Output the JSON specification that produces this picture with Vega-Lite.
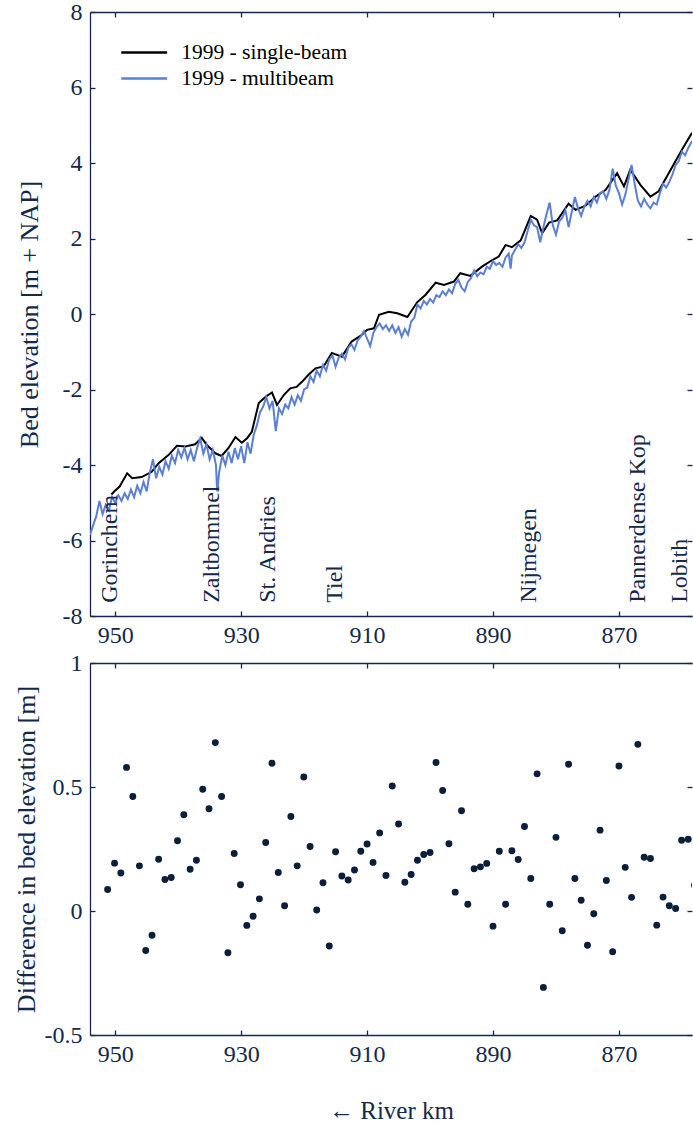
{
  "$schema": "https://vega.github.io/schema/vega-lite/v6.json",
  "background": "white",
  "padding": {"left": 13, "top": 0, "right": 0, "bottom": 0},
  "spacing": 4,
  "config": {
    "font": "Liberation Serif",
    "view": {"stroke": null},
    "axis": {
      "labelFont": "Liberation Serif", "titleFont": "Liberation Serif",
      "labelFontSize": 24, "titleFontSize": 26, "titleFontWeight": "normal",
      "labelColor": "#13294b", "titleColor": "#13294b",
      "domainColor": "#13294b", "tickColor": "#13294b",
      "domainWidth": 1.3, "tickWidth": 1.3, "grid": false,
      "labelFlush": false, "labelOverlap": false
    }
  },
  "datasets": {
    "sb": [
      {"km":950.6,"e":-4.78},{"km":950.2,"e":-4.71},{"km":949.3,"e":-4.57},{"km":948.1,"e":-4.22},{"km":947.3,"e":-4.35},{"km":945.8,"e":-4.32},{"km":944.2,"e":-4.18},{"km":943.1,"e":-3.95},{"km":941.5,"e":-3.73},{"km":940.2,"e":-3.49},{"km":938.85,"e":-3.51},{"km":937.3,"e":-3.45},{"km":936.25,"e":-3.28},{"km":935.45,"e":-3.47},{"km":934.1,"e":-3.69},{"km":933.1,"e":-3.76},{"km":932.0,"e":-3.55},{"km":930.9,"e":-3.26},{"km":929.9,"e":-3.41},{"km":929.05,"e":-3.29},{"km":928.3,"e":-3.12},{"km":927.2,"e":-2.36},{"km":926.1,"e":-2.19},{"km":925.1,"e":-2.08},{"km":924.3,"e":-2.41},{"km":923.2,"e":-2.14},{"km":922.2,"e":-1.97},{"km":921.2,"e":-1.93},{"km":920.3,"e":-1.79},{"km":919.3,"e":-1.61},{"km":918.2,"e":-1.44},{"km":916.9,"e":-1.39},{"km":915.6,"e":-1.03},{"km":914.0,"e":-1.13},{"km":912.45,"e":-0.73},{"km":910.8,"e":-0.55},{"km":910.0,"e":-0.42},{"km":908.9,"e":-0.38},{"km":908.1,"e":-0.02},{"km":906.55,"e":0.06},{"km":905.2,"e":0.02},{"km":903.6,"e":-0.08},{"km":902.05,"e":0.31},{"km":900.7,"e":0.51},{"km":899.1,"e":0.83},{"km":897.8,"e":0.77},{"km":896.2,"e":0.86},{"km":895.2,"e":1.08},{"km":893.6,"e":1.01},{"km":891.7,"e":1.26},{"km":890.1,"e":1.43},{"km":889.1,"e":1.52},{"km":888.0,"e":1.83},{"km":887.0,"e":1.77},{"km":885.6,"e":1.95},{"km":884.0,"e":2.6},{"km":883.0,"e":2.5},{"km":882.2,"e":2.14},{"km":881.1,"e":2.42},{"km":879.8,"e":2.48},{"km":878.0,"e":2.92},{"km":876.9,"e":2.76},{"km":875.3,"e":2.87},{"km":873.7,"e":3.11},{"km":872.1,"e":3.29},{"km":870.3,"e":3.73},{"km":869.2,"e":3.38},{"km":868.2,"e":3.82},{"km":866.6,"e":3.42},{"km":865.0,"e":3.11},{"km":863.7,"e":3.25},{"km":862.1,"e":3.73},{"km":860.0,"e":4.35},{"km":858.4,"e":4.8}
    ],
    "mb": [
      {"km":954.0,"e":-5.85},{"km":953.5,"e":-5.6},{"km":953.0,"e":-5.35},{"km":952.5,"e":-4.95},{"km":952.0,"e":-5.3},{"km":951.5,"e":-5.05},{"km":951.0,"e":-5.2},{"km":950.5,"e":-4.85},{"km":950.0,"e":-5.0},{"km":949.5,"e":-4.8},{"km":949.0,"e":-4.95},{"km":948.5,"e":-4.75},{"km":948.0,"e":-4.9},{"km":947.5,"e":-4.65},{"km":947.0,"e":-4.85},{"km":946.5,"e":-4.55},{"km":946.0,"e":-4.75},{"km":945.5,"e":-4.45},{"km":945.0,"e":-4.7},{"km":944.5,"e":-4.2},{"km":944.0,"e":-3.85},{"km":943.5,"e":-4.35},{"km":943.0,"e":-4.05},{"km":942.5,"e":-4.25},{"km":942.0,"e":-3.9},{"km":941.5,"e":-4.1},{"km":941.0,"e":-3.75},{"km":940.5,"e":-3.95},{"km":940.0,"e":-3.6},{"km":939.5,"e":-3.8},{"km":939.0,"e":-3.55},{"km":938.5,"e":-3.85},{"km":938.0,"e":-3.6},{"km":937.5,"e":-3.9},{"km":937.0,"e":-3.55},{"km":936.5,"e":-3.3},{"km":936.0,"e":-3.7},{"km":935.5,"e":-3.45},{"km":935.0,"e":-3.85},{"km":934.5,"e":-3.6},{"km":934.0,"e":-4.0},{"km":933.8,"e":-4.7},{"km":933.5,"e":-4.2},{"km":933.0,"e":-3.75},{"km":932.5,"e":-4.0},{"km":932.0,"e":-3.65},{"km":931.5,"e":-3.95},{"km":931.0,"e":-3.55},{"km":930.5,"e":-3.85},{"km":930.0,"e":-3.5},{"km":929.5,"e":-3.95},{"km":929.0,"e":-3.4},{"km":928.5,"e":-3.7},{"km":928.0,"e":-3.2},{"km":927.5,"e":-2.95},{"km":927.0,"e":-2.6},{"km":926.5,"e":-2.45},{"km":926.0,"e":-2.2},{"km":925.5,"e":-2.5},{"km":925.0,"e":-2.3},{"km":924.5,"e":-3.1},{"km":924.0,"e":-2.5},{"km":923.5,"e":-2.65},{"km":923.0,"e":-2.4},{"km":922.5,"e":-2.5},{"km":922.0,"e":-2.2},{"km":921.5,"e":-2.4},{"km":921.0,"e":-2.15},{"km":920.5,"e":-2.3},{"km":920.0,"e":-2.0},{"km":919.5,"e":-1.95},{"km":919.0,"e":-1.65},{"km":918.5,"e":-1.8},{"km":918.0,"e":-1.5},{"km":917.5,"e":-1.65},{"km":917.0,"e":-1.35},{"km":916.5,"e":-1.5},{"km":916.0,"e":-1.2},{"km":915.5,"e":-1.1},{"km":915.0,"e":-1.4},{"km":914.5,"e":-1.15},{"km":914.0,"e":-1.05},{"km":913.5,"e":-1.2},{"km":913.0,"e":-0.9},{"km":912.5,"e":-0.8},{"km":912.0,"e":-0.95},{"km":911.5,"e":-0.7},{"km":911.0,"e":-0.6},{"km":910.5,"e":-0.45},{"km":910.0,"e":-0.65},{"km":909.5,"e":-0.85},{"km":909.0,"e":-0.5},{"km":908.5,"e":-0.35},{"km":908.0,"e":-0.25},{"km":907.5,"e":-0.4},{"km":907.0,"e":-0.3},{"km":906.5,"e":-0.45},{"km":906.0,"e":-0.3},{"km":905.5,"e":-0.5},{"km":905.0,"e":-0.35},{"km":904.5,"e":-0.6},{"km":904.0,"e":-0.4},{"km":903.5,"e":-0.55},{"km":903.0,"e":-0.2},{"km":902.5,"e":-0.1},{"km":902.0,"e":0.25},{"km":901.5,"e":0.15},{"km":901.0,"e":0.35},{"km":900.5,"e":0.25},{"km":900.0,"e":0.4},{"km":899.5,"e":0.3},{"km":899.0,"e":0.5},{"km":898.5,"e":0.45},{"km":898.0,"e":0.6},{"km":897.5,"e":0.5},{"km":897.0,"e":0.65},{"km":896.5,"e":0.55},{"km":896.0,"e":0.8},{"km":895.5,"e":0.9},{"km":895.0,"e":0.7},{"km":894.5,"e":0.6},{"km":894.0,"e":0.85},{"km":893.5,"e":0.95},{"km":893.0,"e":1.15},{"km":892.5,"e":1.0},{"km":892.0,"e":1.1},{"km":891.5,"e":1.05},{"km":891.0,"e":1.25},{"km":890.5,"e":1.2},{"km":890.0,"e":1.4},{"km":889.5,"e":1.3},{"km":889.0,"e":1.35},{"km":888.5,"e":1.25},{"km":888.0,"e":1.5},{"km":887.5,"e":1.6},{"km":887.2,"e":1.2},{"km":887.0,"e":1.55},{"km":886.5,"e":1.7},{"km":886.0,"e":1.85},{"km":885.5,"e":1.75},{"km":885.0,"e":1.9},{"km":884.5,"e":2.2},{"km":884.0,"e":2.5},{"km":883.5,"e":2.35},{"km":883.0,"e":2.3},{"km":882.5,"e":1.9},{"km":882.0,"e":2.3},{"km":881.5,"e":2.65},{"km":881.0,"e":2.95},{"km":880.5,"e":2.35},{"km":880.0,"e":2.1},{"km":879.5,"e":2.45},{"km":879.0,"e":2.55},{"km":878.5,"e":2.75},{"km":878.0,"e":2.3},{"km":877.5,"e":2.7},{"km":877.0,"e":3.1},{"km":876.5,"e":2.8},{"km":876.0,"e":2.6},{"km":875.5,"e":2.85},{"km":875.0,"e":3.0},{"km":874.5,"e":2.85},{"km":874.0,"e":3.1},{"km":873.5,"e":2.95},{"km":873.0,"e":3.2},{"km":872.5,"e":3.25},{"km":872.0,"e":3.05},{"km":871.5,"e":3.3},{"km":871.0,"e":3.85},{"km":870.5,"e":3.4},{"km":870.0,"e":3.2},{"km":869.5,"e":2.9},{"km":869.0,"e":3.15},{"km":868.5,"e":3.55},{"km":868.0,"e":3.95},{"km":867.5,"e":3.45},{"km":867.0,"e":3.0},{"km":866.5,"e":2.85},{"km":866.0,"e":3.05},{"km":865.5,"e":2.9},{"km":865.0,"e":2.8},{"km":864.5,"e":2.95},{"km":864.0,"e":2.9},{"km":863.5,"e":3.2},{"km":863.0,"e":3.45},{"km":862.5,"e":3.35},{"km":862.0,"e":3.5},{"km":861.5,"e":3.7},{"km":861.0,"e":3.95},{"km":860.5,"e":4.05},{"km":860.0,"e":4.3},{"km":859.5,"e":4.2},{"km":859.0,"e":4.4},{"km":858.5,"e":4.55},{"km":858.2,"e":4.6}
    ],
    "stations": [
      {"km":949.7,"name":"Gorinchem"},{"km":933.55,"name":"Zaltbommel"},{"km":924.66,"name":"St. Andries"},{"km":913.97,"name":"Tiel"},{"km":883.2,"name":"Nijmegen"},{"km":865.8,"name":"Pannerdense Kop"},{"km":859.2,"name":"Lobith"}
    ],
    "diff": [
      {"km":951.2,"d":0.087},{"km":950.1,"d":0.193},{"km":949.1,"d":0.153},{"km":948.2,"d":0.579},{"km":947.2,"d":0.462},{"km":946.15,"d":0.182},{"km":945.15,"d":-0.159},{"km":944.15,"d":-0.098},{"km":943.1,"d":0.209},{"km":942.1,"d":0.127},{"km":941.1,"d":0.135},{"km":940.1,"d":0.283},{"km":939.1,"d":0.388},{"km":938.1,"d":0.168},{"km":937.1,"d":0.205},{"km":936.1,"d":0.491},{"km":935.1,"d":0.412},{"km":934.1,"d":0.679},{"km":933.1,"d":0.462},{"km":932.1,"d":-0.168},{"km":931.1,"d":0.232},{"km":930.1,"d":0.106},{"km":929.1,"d":-0.058},{"km":928.1,"d":-0.021},{"km":927.1,"d":0.049},{"km":926.1,"d":0.276},{"km":925.1,"d":0.596},{"km":924.1,"d":0.155},{"km":923.1,"d":0.021},{"km":922.1,"d":0.381},{"km":921.1,"d":0.182},{"km":920.05,"d":0.54},{"km":919.05,"d":0.26},{"km":918.0,"d":0.004},{"km":917.0,"d":0.114},{"km":916.0,"d":-0.141},{"km":915.0,"d":0.239},{"km":914.0,"d":0.141},{"km":913.0,"d":0.125},{"km":912.0,"d":0.165},{"km":911.0,"d":0.241},{"km":910.0,"d":0.27},{"km":909.05,"d":0.196},{"km":908.0,"d":0.315},{"km":907.0,"d":0.143},{"km":906.0,"d":0.504},{"km":905.0,"d":0.351},{"km":904.0,"d":0.116},{"km":903.0,"d":0.147},{"km":902.0,"d":0.205},{"km":901.0,"d":0.228},{"km":900.0,"d":0.236},{"km":899.05,"d":0.599},{"km":898.0,"d":0.486},{"km":897.0,"d":0.271},{"km":896.0,"d":0.076},{"km":895.0,"d":0.404},{"km":894.0,"d":0.027},{"km":893.0,"d":0.17},{"km":892.0,"d":0.178},{"km":891.0,"d":0.192},{"km":890.0,"d":-0.061},{"km":889.0,"d":0.241},{"km":888.0,"d":0.027},{"km":887.0,"d":0.243},{"km":886.0,"d":0.208},{"km":885.0,"d":0.341},{"km":884.0,"d":0.131},{"km":883.0,"d":0.553},{"km":882.0,"d":-0.308},{"km":881.0,"d":0.027},{"km":880.0,"d":0.297},{"km":879.0,"d":-0.08},{"km":878.0,"d":0.592},{"km":877.0,"d":0.131},{"km":876.0,"d":0.043},{"km":875.0,"d":-0.138},{"km":874.0,"d":-0.011},{"km":873.0,"d":0.326},{"km":872.0,"d":0.123},{"km":871.0,"d":-0.164},{"km":870.0,"d":0.585},{"km":869.0,"d":0.176},{"km":868.0,"d":0.055},{"km":867.0,"d":0.672},{"km":866.0,"d":0.217},{"km":865.0,"d":0.212},{"km":864.0,"d":-0.057},{"km":863.0,"d":0.056},{"km":862.0,"d":0.021},{"km":861.0,"d":0.01},{"km":860.05,"d":0.285},{"km":859.0,"d":0.289},{"km":858.0,"d":0.104}
    ]
  },
  "vconcat": [
    {
      "width": 602,
      "height": 604,
      "resolve": {"axis": {"x": "independent", "y": "independent"}},
      "layer": [
        {
          "data": {"name": "sb"},
          "mark": {"type": "line", "strokeWidth": 2, "clip": true},
          "encoding": {
            "x": {"field": "km", "type": "quantitative",
                  "scale": {"domain": [954, 858.4], "nice": false, "zero": false},
                  "axis": {"orient": "bottom", "values": [950, 930, 910, 890, 870], "title": null, "tickSize": -5, "labelPadding": 12, "format": "d"}},
            "y": {"field": "e", "type": "quantitative",
                  "scale": {"domain": [-8, 8], "nice": false, "zero": false},
                  "axis": {"orient": "left", "values": [-8, -6, -4, -2, 0, 2, 4, 6, 8], "title": "Bed elevation [m + NAP]", "titlePadding": 20, "tickSize": -5, "labelPadding": 13, "labelExpr": "'' + datum.value"}},
            "color": {"datum": "1999 - single-beam", "type": "nominal",
                      "scale": {"domain": ["1999 - single-beam", "1999 - multibeam"], "range": ["#000000", "#5b7fd1"]},
                      "legend": {"orient": "none", "legendX": 39.2, "legendY": 25.5, "title": null, "symbolType": "M-1.7,0H1.7", "symbolSize": 729, "symbolStrokeWidth": 2.5, "labelFontSize": 21.5, "labelFont": "Liberation Serif", "labelColor": "#000000", "labelLimit": 0, "padding": 0, "labelOffset": 22, "rowPadding": 0}}
          }
        },
        {
          "data": {"name": "mb"},
          "mark": {"type": "line", "strokeWidth": 2, "clip": true},
          "encoding": {
            "x": {"field": "km", "type": "quantitative",
                  "axis": {"orient": "top", "values": [950, 930, 910, 890, 870], "title": null, "labels": false, "tickSize": -5}},
            "y": {"field": "e", "type": "quantitative",
                  "axis": {"orient": "right", "values": [-8, -6, -4, -2, 0, 2, 4, 6, 8], "title": null, "labels": false, "domain": false, "tickSize": -5}},
            "color": {"datum": "1999 - multibeam", "type": "nominal"}
          }
        },
        {
          "data": {"name": "stations"},
          "mark": {"type": "text", "angle": 270, "align": "left", "baseline": "alphabetic", "fontSize": 24, "font": "Liberation Serif", "color": "#13294b"},
          "encoding": {
            "x": {"field": "km", "type": "quantitative", "axis": null},
            "y": {"datum": -7.65, "type": "quantitative", "axis": null},
            "text": {"field": "name", "type": "nominal"}
          }
        }
      ]
    },
    {
      "width": 602,
      "height": 372,
      "resolve": {"axis": {"x": "independent", "y": "independent"}},
      "layer": [
        {
          "data": {"name": "diff"},
          "mark": {"type": "circle", "size": 48, "color": "#0b1f3a", "opacity": 1, "clip": true},
          "encoding": {
            "x": {"field": "km", "type": "quantitative",
                  "scale": {"domain": [954, 858.4], "nice": false, "zero": false},
                  "axis": {"orient": "bottom", "values": [950, 930, 910, 890, 870], "title": "← River km", "titleFontSize": 25, "titlePadding": 32, "tickSize": -5, "labelPadding": 12, "format": "d"}},
            "y": {"field": "d", "type": "quantitative",
                  "scale": {"domain": [-0.5, 1], "nice": false, "zero": false},
                  "axis": {"orient": "left", "values": [-0.5, 0, 0.5, 1], "title": "Difference in bed elevation [m]", "titlePadding": 5, "tickSize": -5, "labelPadding": 13, "labelExpr": "'' + datum.value"}}
          }
        },
        {
          "data": {"name": "diff"},
          "mark": {"type": "circle", "opacity": 0, "clip": true},
          "encoding": {
            "x": {"field": "km", "type": "quantitative",
                  "axis": {"orient": "top", "values": [950, 930, 910, 890, 870], "title": null, "labels": false, "tickSize": -5}},
            "y": {"field": "d", "type": "quantitative",
                  "axis": {"orient": "right", "values": [-0.5, 0, 0.5, 1], "title": null, "labels": false, "domain": false, "tickSize": -5}}
          }
        }
      ]
    }
  ]
}
